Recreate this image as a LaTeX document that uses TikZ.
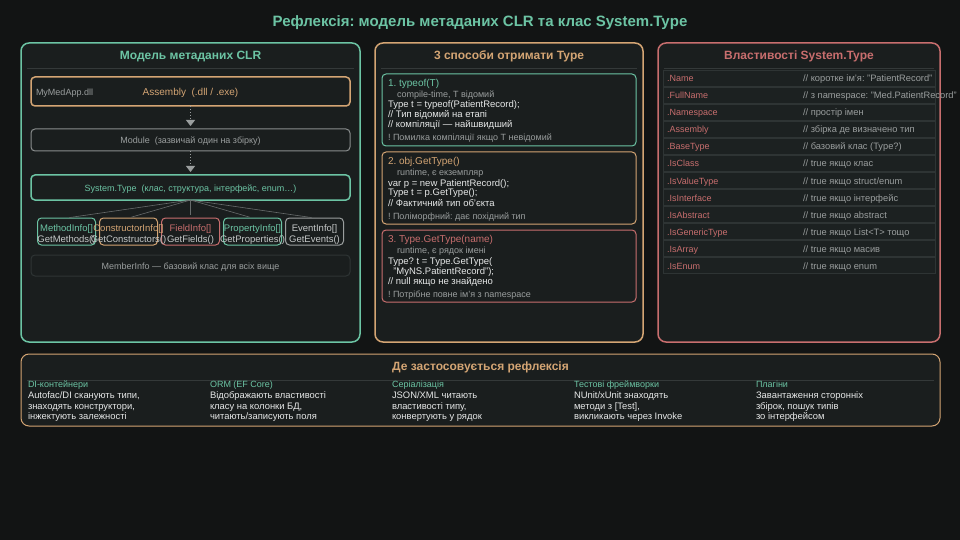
\documentclass[tikz,border=0pt]{standalone}
\usepackage{fontspec}
\setmainfont{Liberation Sans}
\usetikzlibrary{arrows.meta}
\definecolor{bg}{HTML}{121414}
\definecolor{pfill}{HTML}{1A1E1E}
\definecolor{rowfill}{HTML}{1C2121}
\definecolor{rowline}{HTML}{2E3434}
\definecolor{sepline}{HTML}{343939}
\definecolor{cteal}{HTML}{6CC4A4}
\definecolor{ctan}{HTML}{D4A574}
\definecolor{cred}{HTML}{C86E6E}
\definecolor{cgray}{HTML}{9A9E9E}
\definecolor{cwhite}{HTML}{E6E8E8}
\definecolor{clight}{HTML}{C6C9C9}
\definecolor{cmod}{HTML}{8A8E8E}
\frenchspacing
\begin{document}
\begin{tikzpicture}[x=1pt,y=-1pt,
  every node/.style={inner sep=0pt, outer sep=0pt},
  panel/.style={draw, line width=1.5pt, rounded corners=8pt, fill=pfill},
  ibox/.style={draw, line width=1pt, rounded corners=4pt, fill=pfill},
  rowbox/.style={draw=rowline, line width=0.8pt, fill=rowfill, minimum width=272pt, minimum height=16pt},
  ptitle/.style={anchor=base, font=\fontsize{12}{14}\selectfont\bfseries},
  ctext/.style={anchor=base, font=\fontsize{9}{11}\selectfont},
  txt/.style={anchor=base west, font=\fontsize{9}{11}\selectfont},
  code/.style={anchor=base west, font=\fontsize{9.5}{11}\selectfont, text=cwhite},
  note/.style={anchor=base west, font=\fontsize{9}{11}\selectfont, text=cgray},
  head/.style={anchor=base west, font=\fontsize{10}{12}\selectfont},
  sep/.style={draw=sepline, line width=1pt},
  dotarrow/.style={draw=cgray, dotted, line width=1pt, -{Triangle[width=9pt,length=6pt]}, shorten >=3pt},
  fan/.style={draw=cgray!60!pfill, line width=0.6pt},
  small/.style={ibox, minimum width=58pt, minimum height=27pt},
  stext/.style={anchor=base, font=\fontsize{9.5}{11}\selectfont}
]
\useasboundingbox[fill=bg] (0,0) rectangle (960,540);

% title
\node[anchor=base, font=\fontsize{15}{17}\selectfont\bfseries, text=cteal] (title) at (480,26.5) {Рефлексія: модель метаданих CLR та клас System.Type};

% ---------- left panel
\node[panel, draw=cteal, minimum width=339pt, minimum height=299pt] (lp) at (190.5,192.5) {};
\node[ptitle, text=cteal] (lpt) at (190.5,59.5) {Модель метаданих CLR};
\coordinate (ls1) at (27,69); \coordinate (ls2) at (354,69);
\draw[sep] (ls1) -- (ls2);

\node[ibox, draw=ctan, line width=1.5pt, minimum width=319pt, minimum height=29pt] (asm) at (190.5,91.5) {};
\node[anchor=base, font=\fontsize{10}{12}\selectfont, text=ctan] (asmt) at (190.5,95.5) {Assembly\ \ (.dll / .exe)};
\node[txt, text=cgray] (dll) at (36,95.5) {MyMedApp.dll};

\node[ibox, draw=cmod, minimum width=319pt, minimum height=22pt] (mod) at (190.5,140) {};
\node[ctext, text=cgray] (modt) at (190.5,143.8) {Module\ \ (зазвичай один на збірку)};
\node[ibox, draw=cteal, line width=1.5pt, minimum width=319pt, minimum height=25pt] (st) at (190.5,187.5) {};
\node[ctext, text=cteal] (stt) at (190.5,191.8) {System.Type\ \ (клас, структура, інтерфейс, enum…)};

\draw[dotarrow] (asm) -- (mod);
\draw[dotarrow] (mod) -- (st);

\node[small, draw=cteal] (mi) at (66.5,231.5) {};
\node[small, draw=ctan] (ci) at (128.5,231.5) {};
\node[small, draw=cred] (fi) at (190.5,231.5) {};
\node[small, draw=cteal] (pi) at (252.5,231.5) {};
\node[small, draw=cgray] (ei) at (314.5,231.5) {};
\foreach \n/\x/\c/\a/\b in {mi/66.5/cteal/MethodInfo[]/GetMethods(),
  ci/128.5/ctan/ConstructorInfo[]/GetConstructors(),
  fi/190.5/cred/FieldInfo[]/GetFields(),
  pi/252.5/cteal/PropertyInfo[]/GetProperties(),
  ei/314.5/clight/EventInfo[]/GetEvents()}{
  \node[stext, text=\c] (\n a) at (\x,231.5) {\a};
  \node[stext, text=clight] (\n b) at (\x,242) {\b};
}

\foreach \n in {mi,ci,fi,pi,ei}{\draw[fan, shorten >=3pt] (st.south) -- (\n.north);}

\node[ibox, draw=rowline, minimum width=319pt, minimum height=21pt] (mem) at (190.5,265.5) {};
\node[ctext, text=cgray] (memt) at (190.5,269.2) {MemberInfo — базовий клас для всіх вище};

% ---------- middle panel
\node[panel, draw=ctan, minimum width=268pt, minimum height=299pt] (mp) at (509,192.5) {};
\node[ptitle, text=ctan] (mpt) at (509,59.5) {3 способи отримати Type};
\coordinate (ms1) at (381,69); \coordinate (ms2) at (637,69);
\draw[sep] (ms1) -- (ms2);

\node[ibox, draw=cteal, minimum width=254pt, minimum height=72pt] (b1) at (509,110) {};
\node[head, text=cteal] (b1t) at (388,86.5) {1. typeof(T)};
\node[note] (b1n) at (397,97.5) {compile-time, T відомий};
\node[code] (b1a) at (388,108) {Type t = typeof(PatientRecord);};
\node[code] (b1b) at (388,118) {// Тип відомий на етапі};
\node[code] (b1c) at (388,128) {// компіляції — найшвидший};
\node[note] (b1w) at (388,141) {! Помилка компіляції якщо T невідомий};

\node[ibox, draw=ctan, minimum width=254pt, minimum height=72pt] (b2) at (509,188) {};
\node[head, text=ctan] (b2t) at (388,164.5) {2. obj.GetType()};
\node[note] (b2n) at (397,175.5) {runtime, є екземпляр};
\node[code] (b2a) at (388,186) {var p = new PatientRecord();};
\node[code] (b2b) at (388,196) {Type t = p.GetType();};
\node[code] (b2c) at (388,206) {// Фактичний тип об'єкта};
\node[note] (b2w) at (388,219) {! Поліморфний: дає похідний тип};

\node[ibox, draw=cred, minimum width=254pt, minimum height=72pt] (b3) at (509,266) {};
\node[head, text=cred] (b3t) at (388,242.5) {3. Type.GetType(name)};
\node[note] (b3n) at (397,253.5) {runtime, є рядок імені};
\node[code] (b3a) at (388,264) {Type? t = Type.GetType(};
\node[code] (b3b) at (388,274) {\ \ "MyNS.PatientRecord");};
\node[code] (b3c) at (388,284) {// null якщо не знайдено};
\node[note] (b3w) at (388,297) {! Потрібне повне ім'я з namespace};

% ---------- right panel
\node[panel, draw=cred, minimum width=282pt, minimum height=299pt] (rp) at (799,192.5) {};
\node[ptitle, text=cred] (rpt) at (799,59.5) {Властивості System.Type};
\coordinate (rs1) at (664,69); \coordinate (rs2) at (934,69);
\draw[sep] (rs1) -- (rs2);

\foreach \i/\p/\c in {0/.Name/{// коротке ім'я: "PatientRecord"},
  1/.FullName/{// з namespace: "Med.PatientRecord"},
  2/.Namespace/{// простір імен},
  3/.Assembly/{// збірка де визначено тип},
  4/.BaseType/{// базовий клас (Type?)},
  5/.IsClass/{// true якщо клас},
  6/.IsValueType/{// true якщо struct/enum},
  7/.IsInterface/{// true якщо інтерфейс},
  8/.IsAbstract/{// true якщо abstract},
  9/.IsGenericType/{// true якщо List<T> тощо},
  10/.IsArray/{// true якщо масив},
  11/.IsEnum/{// true якщо enum}}{
  \node[rowbox] (row\i) at (799,{78+17*\i}) {};
  \node[txt, text=cred] (rowp\i) at (667,{82+17*\i}) {\p};
  \node[note, font=\fontsize{9.3}{11}\selectfont] (rowc\i) at (803,{82+17*\i}) {\c};
}

% ---------- bottom panel
\node[panel, draw=ctan, line width=1pt, minimum width=919pt, minimum height=72pt] (bp) at (480.5,390) {};
\node[ptitle, text=ctan] (bpt) at (480.5,370.5) {Де застосовується рефлексія};
\coordinate (bs1) at (27,380); \coordinate (bs2) at (934,380);
\draw[sep] (bs1) -- (bs2);

\foreach \k/\h/\a/\b/\c in {0/DI-контейнери/{Autofac/DI сканують типи,}/{знаходять конструктори,}/{інжектують залежності},
  1/ORM (EF Core)/{Відображають властивості}/{класу на колонки БД,}/{читають/записують поля},
  2/Серіалізація/{JSON/XML читають}/{властивості типу,}/{конвертують у рядок},
  3/Тестові фреймворки/{NUnit/xUnit знаходять}/{методи з [Test],}/{викликають через Invoke},
  4/Плагіни/{Завантаження сторонніх}/{збірок, пошук типів}/{зо інтерфейсом}}{
  \node[txt, text=cteal] (uh\k) at ({28+182*\k},387.5) {\h};
  \node[txt, text=cwhite, font=\fontsize{9.4}{11}\selectfont] (ua\k) at ({28+182*\k},398.5) {\a};
  \node[txt, text=cwhite, font=\fontsize{9.4}{11}\selectfont] (ub\k) at ({28+182*\k},409) {\b};
  \node[txt, text=cwhite, font=\fontsize{9.4}{11}\selectfont] (uc\k) at ({28+182*\k},419.5) {\c};
}
\end{tikzpicture}
\end{document}
